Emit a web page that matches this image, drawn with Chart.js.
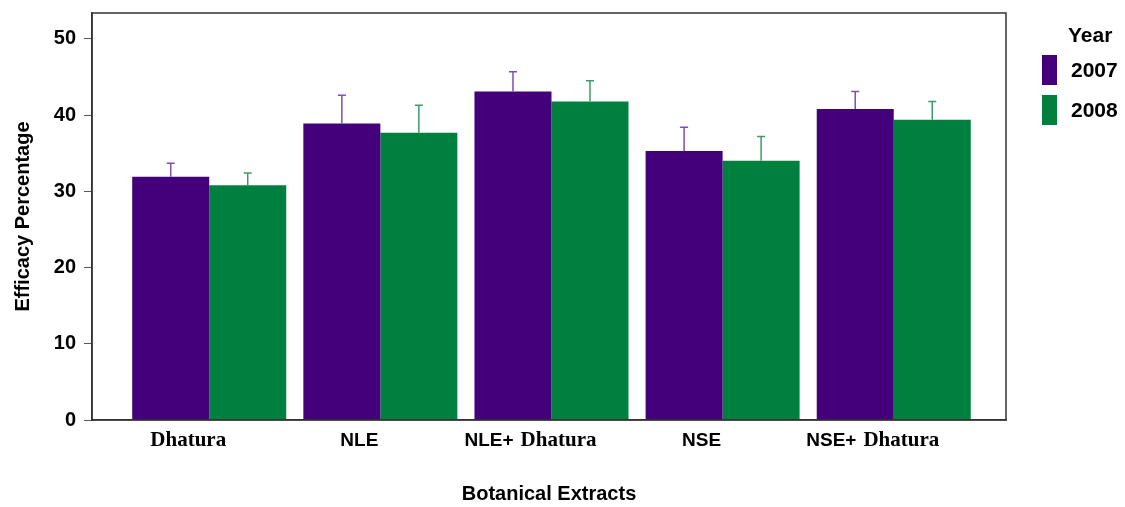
<!DOCTYPE html>
<html>
<head>
<meta charset="utf-8">
<script src="https://cdn.jsdelivr.net/npm/chart.js@4.4.1/dist/chart.umd.min.js"></script>
<style>
  html,body{margin:0;padding:0;background:#fff;}
  #wrap{width:1125px;height:507px;}
</style>
</head>
<body>
<div id="wrap"><canvas id="myChart" width="1125" height="507"></canvas></div>
<script>
// data
const categories = ['Dhatura', 'NLE', 'NLE+ Dhatura', 'NSE', 'NSE+ Dhatura']
const years = ['2007', '2008']
const eff2007 = [31.9, 38.9, 43.1, 35.3, 40.8]
const eff2008 = [30.8, 37.7, 41.8, 34.0, 39.4]
const err2007 = [1.8, 3.7, 2.6, 3.1, 2.3]
const err2008 = [1.6, 3.6, 2.7, 3.2, 2.4]
const yTicks = [0, 10, 20, 30, 40, 50]

const purple = '#43007a'
const green = '#00803f'

const sans = '"Liberation Sans", Arial, sans-serif'
const serif = '"Liberation Serif", "Times New Roman", serif'

// error bars (upper whisker only)
const errorBars = {
  id: 'errorBars',
  afterDatasetsDraw(chart) {
    const ctx = chart.ctx
    const y = chart.scales.y
    chart.data.datasets.forEach((ds, di) => {
      const meta = chart.getDatasetMeta(di)
      meta.data.forEach((bar, i) => {
        const top = y.getPixelForValue(ds.data[i].y + ds.errors[i])
        ctx.save()
        ctx.strokeStyle = ds.whisker
        ctx.lineWidth = 1.5
        ctx.beginPath()
        ctx.moveTo(bar.x, bar.y)
        ctx.lineTo(bar.x, top)
        ctx.moveTo(bar.x - 4, top)
        ctx.lineTo(bar.x + 4, top)
        ctx.stroke()
        ctx.restore()
      })
    })
  }
}

// box around plot, category labels, legend
const decor = {
  id: 'decor',
  afterDraw(chart) {
    const ctx = chart.ctx
    const a = chart.chartArea
    const x = chart.scales.x
    ctx.save()
    ctx.strokeStyle = '#333'
    ctx.lineWidth = 1.5
    ctx.strokeRect(a.left, a.top, a.right - a.left, a.bottom - a.top)

    // category labels, mixed fonts like the original
    ctx.fillStyle = '#000'
    ctx.textBaseline = 'middle'
    categories.forEach((c, i) => {
      const parts = c.split(' ').map(w => ({
        t: w,
        f: w === 'Dhatura' ? 'bold 21px ' + serif : 'bold 19px ' + sans
      }))
      let total = 0
      parts.forEach((p, k) => {
        ctx.font = p.f
        p.w = ctx.measureText(p.t).width
        total += p.w + (k > 0 ? 7 : 0)
      })
      let px = x.getPixelForValue(i) - 21 - total / 2
      ctx.textAlign = 'left'
      parts.forEach((p, k) => {
        if (k > 0) px += 7
        ctx.font = p.f
        ctx.fillText(p.t, px, 441)
        px += p.w
      })
    })

    // legend
    ctx.font = 'bold 21px ' + sans
    ctx.textAlign = 'left'
    ctx.fillText('Year', a.right + 62, 36)
    chart.data.datasets.forEach((ds, di) => {
      const by = 55 + di * 40
      ctx.fillStyle = ds.backgroundColor
      ctx.fillRect(a.right + 36, by, 15, 30)
      ctx.fillStyle = '#000'
      ctx.fillText(ds.label, a.right + 65, by + 16)
    })
    ctx.restore()
  }
}

new Chart(document.getElementById('myChart'), {
  type: 'bar',
  data: {
    datasets: [
      {
        label: years[0],
        data: eff2007.map((v, i) => ({ x: i, y: v })),
        errors: err2007,
        whisker: '#7d4fb4',
        backgroundColor: purple
      },
      {
        label: years[1],
        data: eff2008.map((v, i) => ({ x: i, y: v })),
        errors: err2008,
        whisker: '#3c9c69',
        backgroundColor: green
      }
    ]
  },
  options: {
    responsive: false,
    animation: false,
    categoryPercentage: 0.9,
    barPercentage: 1.0,
    layout: { padding: { left: 0, right: 119, top: 13, bottom: 0 } },
    plugins: {
      legend: { display: false },
      tooltip: { enabled: false }
    },
    scales: {
      x: {
        type: 'linear',
        offset: false,
        min: -0.685,
        max: 4.656,
        afterBuildTicks(s) {
          s.ticks = categories.map((c, i) => ({ value: i }))
        },
        grid: { display: false, offset: false },
        border: { display: true, color: '#333', width: 1.5 },
        ticks: { display: false },
        title: {
          display: true,
          text: 'Botanical Extracts',
          color: '#000',
          font: { family: sans, size: 20, weight: 'bold' },
          padding: { top: 0, bottom: 1 }
        },
        afterFit(s) {
          s.height = 87
          s.paddingLeft = 0
          s.paddingRight = 0
        }
      },
      y: {
        min: 0,
        max: 53.4,
        afterBuildTicks(s) {
          s.ticks = yTicks.map(v => ({ value: v }))
        },
        grid: {
          display: true,
          drawOnChartArea: false,
          drawTicks: true,
          tickLength: 8,
          color: '#555'
        },
        border: { display: true, color: '#333', width: 1.5 },
        ticks: {
          color: '#000',
          padding: 8,
          font: { family: sans, size: 20, weight: 'bold' }
        },
        title: {
          display: true,
          text: 'Efficacy Percentage',
          color: '#000',
          font: { family: sans, size: 20, weight: 'bold' },
          padding: { top: 11, bottom: 0 }
        },
        afterFit(s) {
          s.width = 92
          s.paddingTop = 0
          s.paddingBottom = 0
        }
      }
    }
  },
  plugins: [errorBars, decor]
})
</script>
</body>
</html>
